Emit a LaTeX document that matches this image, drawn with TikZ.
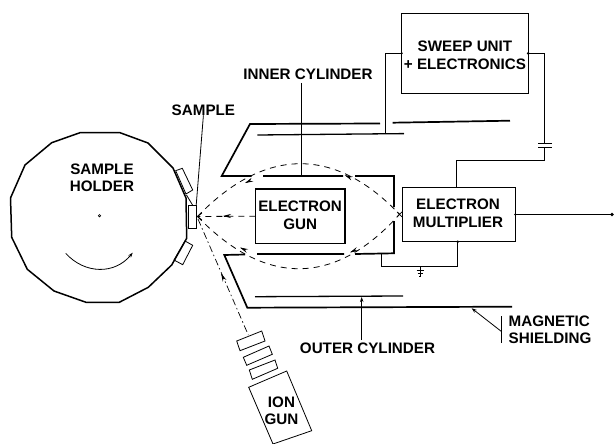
\documentclass[tikz,border=0pt]{standalone}
\usepackage{fontspec}
\setmainfont{Liberation Sans}
\usetikzlibrary{arrows.meta}
\tikzset{
  spec diagram/.style={
    draw=black, line width=0.8pt,
    >={Stealth[length=5pt,width=3.5pt]},
    every node/.style={font=\fontsize{15.2}{18}\selectfont\bfseries,
      text=black, inner sep=0pt, outer sep=0pt, align=center}
  },
  spec box/.style={draw, line width=1.1pt, anchor=north west},
  spec wall/.style={line width=1.7pt, line join=miter},
  spec liner/.style={line width=1.3pt},
  spec beam/.style={dash pattern=on 6pt off 5pt, line width=0.8pt},
  spec ion/.style={dash pattern=on 7pt off 3pt on 1.5pt off 3pt, line width=0.7pt},
  spec tip/.style={-{Stealth[length=8pt,width=4pt]}},
  spec wire/.style={line width=0.9pt}
}
\begin{document}
\begin{tikzpicture}[spec diagram,x=1pt,y=-1pt]
    \useasboundingbox (0,0) rectangle (614,444);
    % sample holder
    \draw[line width=1.5pt,line join=round] (80,132.7) -- (120,132.7) -- (148,143) -- (173,168) -- (186,198) -- (186.7,238.3)
      -- (171.7,265) -- (148.3,287.3) -- (119.3,302.3) -- (86,302.3) -- (54,291) -- (27.3,269.3) -- (11.7,237.3)
      -- (10.5,198) -- (25,165) -- (51.7,142.7) -- cycle;
    \node (holdertext) at (102,177.5) {SAMPLE\\[-1.3pt]HOLDER};
    \draw[line width=0.6pt] (99.5,215.7) circle (1.2);
    \draw[->] (65.7,253.3) .. controls (85,274.5) and (115,274.5) .. (132.7,252.7);
    \draw (175.7,170.7) -- (182.3,168.3) -- (192.7,190) -- (186,194) -- cycle;
    \draw (185,241) -- (192.7,245.3) -- (182.7,264.7) -- (174,260) -- cycle;
    \draw (186.5,195) -- (192.7,205.3);
    \node[draw,anchor=north west,minimum width=7.5pt,minimum height=23.5pt] (sample) at (188.7,205.3) {};
    \node (sampletext) at (203.4,110) {SAMPLE};
    \draw (sampletext.south) -- (sample.north east);
    % cylinders
    \draw[spec wall] (380,123.5) -- (250,124) -- (221.7,176) -- (251.7,176) (263,176) -- (343,176) (355,176) -- (394,176) -- (394,207);
    \draw[spec wall] (394,221) -- (394,253.3) -- (355,254) (344,254) -- (257,254) (245,254.5) -- (224.3,255) -- (247.3,307.7) -- (512,306.7);
    \draw[spec wall] (392.7,122.7) -- (510,120.7);
    \draw[spec liner] (257.3,135) -- (404,133.6);
    \draw[spec liner] (255,296.7) -- (403,296);
    \node (innertext) at (308,74) {INNER CYLINDER};
    \draw (301,83) -- (301,176);
    \node (outertext) at (367.5,348.3) {OUTER CYLINDER};
    \draw[->] (361.7,340) -- (361.7,297);
    % magnetic shielding
    \node[anchor=west,align=left] (magtext) at (508.7,330) {MAGNETIC\\[-0.8pt]SHIELDING};
    \coordinate (magtick) at (501.7,331.7);
    \draw (501.7,316) -- (501.7,342.7);
    \draw[->] (magtick) -- (471.7,308.3);
    % electronics
    \node[spec box,minimum width=126.5pt,minimum height=80pt] (sweep) at (401.7,13.3) {};
    \node at (sweep.center) [yshift=-1.5pt] {SWEEP UNIT\\+ ELECTRONICS};
    \node[spec box,minimum width=112.6pt,minimum height=54.4pt] (mult) at (402.7,187.3) {};
    \node at (mult.center) [xshift=-1pt,yshift=1pt] {ELECTRON\\MULTIPLIER};
    \node[spec box,minimum width=89.7pt,minimum height=54.3pt] (gun) at (255.3,189) {};
    \node at (gun.center) [yshift=1pt] {ELECTRON\\GUN};
    % wiring
    \coordinate (capa) at (544.5,143.3);
    \coordinate (capb) at (544.5,147.7);
    \draw[spec wire] (sweep.west) -- (385,53.3) -- (385,134);
    \draw[spec wire] (sweep.east) -- (544.5,53.3) -- (capa);
    \draw[line width=1pt] (538,143.3) -- (551.7,143.3) (538,147.7) -- (551.7,147.7);
    \draw[spec wire] (capb) -- (544.5,160) -- (456,160) -- (456,187.3);
    \fill (sweep.east) circle (1.5) (sweep.west) circle (1.2) (mult.east) circle (1.2);
    \coordinate (out) at (612,214);
    \draw[spec wire] (mult.east) -- (mult.east -| out);
    \fill (mult.east -| out) circle (1.8);
    \draw[spec wire] (457.7,241.7) -- (457.7,266.7) -- (381.7,266.7) -- (381.7,253.3);
    \fill (457.7,241.7) circle (1.4);
    \draw[line width=0.7pt] (420,266.7) -- (420,276) (416.5,270.7) -- (423.5,270.7) (417.5,273.5) -- (422.5,273.5) (419,276.5) -- (421,276.5);
    % beams
    \coordinate (focus) at (197.5,216.5);
    \coordinate (cross) at (399.5,214.3);
    \draw[spec beam] (focus) .. controls (265,146.5) and (335,146.5) .. (cross);
    \draw[spec beam] (focus) .. controls (265,286.5) and (335,286.5) .. (cross);
    \draw[spec beam] (gun.west) -- (focus);
    \draw[line width=0.7pt] (397,211.8) -- (402,216.8) (397,216.8) -- (402,211.8);
    \draw[line width=0.7pt] (202,213) -- (197.5,216.5) -- (202,220);
    \foreach \tipx/\tipy/\tipang in {246/182.6/155,345.7/175.6/205,224/216/180,241/248/205,351/252/155,221.6/274.4/245}{
      \draw[spec tip] (\tipx,\tipy) -- ++(\tipang:1);
    }
    % ion gun
    \draw[spec ion] (198,219) -- (248.3,335);
    \draw (236.7,341) -- (261.7,331) -- (265,341) -- (240,350.7) -- cycle;
    \draw (243.3,357.3) -- (269,346) -- (272.3,354.3) -- (246.7,365.3) -- cycle;
    \draw (249.3,370) -- (275,360) -- (277.7,368.3) -- (252.3,379.3) -- cycle;
    \draw (248.7,387.3) -- (286.7,371) -- (311.7,430.7) -- (273,444) -- cycle;
    \node (iontext) at (281.5,410.5) {ION\\[-1pt]GUN};
\end{tikzpicture}
\end{document}
